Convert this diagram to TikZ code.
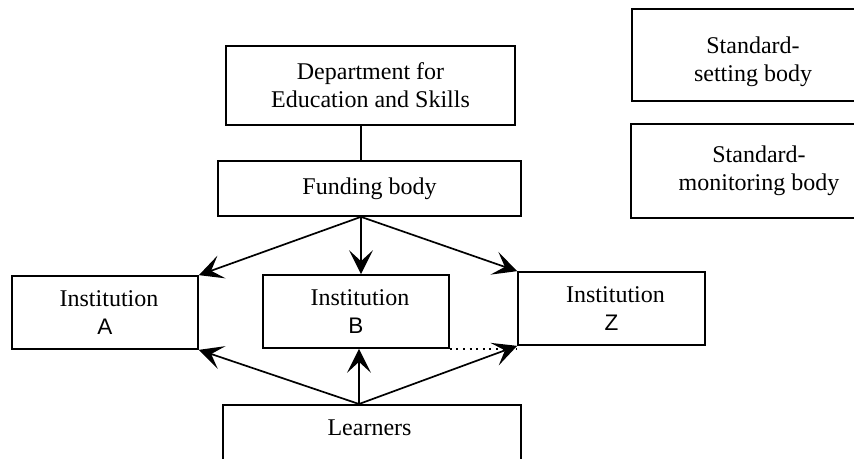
\documentclass[tikz,border=0pt]{standalone}
\usepackage{fontspec}
\setmainfont{Liberation Serif}
\newfontfamily\letterfont{Liberation Sans}
\usetikzlibrary{arrows.meta}
\begin{document}
\begin{tikzpicture}[x=1pt,y=-1pt,
  box/.style={draw, line width=1.7pt, rectangle, inner sep=0pt, align=center,
    font=\fontsize{24}{28}\selectfont},
  plain/.style={inner sep=0pt, align=center, font=\fontsize{24}{28}\selectfont},
  link/.style={line width=1.7pt},
  feed/.style={line width=1.7pt, -{Stealth[length=24pt,width=24pt,inset=11pt]}},
  dots/.style={line width=2pt, dash pattern=on 2pt off 4.6pt}
  ]
\newcommand{\instlabel}[1]{\hspace*{8pt}Institution\\{\letterfont\fontsize{22.5}{28}\selectfont #1}}

% page frame
\useasboundingbox (0,0) rectangle (854,458);
\fill[white] (0,0) rectangle (854,458);
\clip (0,0) rectangle (854,458);

% top of the hierarchy
\node[box, minimum width=289, minimum height=79] (dept) at (370.5,85.5)
  {Department for\\Education and Skills};
\node[box, minimum width=303, minimum height=55] (fund) at (369.5,188.5)
  {Funding body};

% institutions
\node[box, minimum width=186, minimum height=73] (instA) at (105,312.5) {\instlabel{A}};
\node[box, minimum width=186, minimum height=73] (instB) at (356,311.5) {\instlabel{B}};
\node[box, minimum width=187, minimum height=73] (instZ) at (611.5,308.5) {\instlabel{Z}};

% learners (box runs past the lower edge)
\node[box, minimum width=298, minimum height=100, anchor=north] (learn) at (372,404) {};
\node[plain] (learntext) at (369.5,427.5) {Learners};

% standards bodies (boxes run past the right edge)
\node[box, minimum width=242, minimum height=92,
  label={[plain, yshift=-6.5pt]center:Standard-\\setting body}] (setting) at (753,55) {};
\node[box, minimum width=256, minimum height=94] (monitor) at (759,171)
  {Standard-\\monitoring body};

% hub points of the fan-out / fan-in arrows
\coordinate (fsrc) at (361,0);
\coordinate (lsrc) at (359,0);

% connectors
\draw[link] (dept.south -| fsrc) -- (fund.north -| fsrc);
\draw[feed] (fund.south -| fsrc) -- (instA.north east);
\draw[feed] (fund.south -| fsrc) -- (instB.north -| fsrc);
\draw[feed] (fund.south -| fsrc) -- (instZ.north west);
\draw[feed] (learn.north -| lsrc) -- (instA.south east);
\draw[feed] (learn.north -| lsrc) -- (instB.south -| lsrc);
\draw[feed] (learn.north -| lsrc) -- (instZ.south west);
\draw[dots] (instB.south east) -- (instB.south east -| instZ.west);
\end{tikzpicture}
\end{document}
